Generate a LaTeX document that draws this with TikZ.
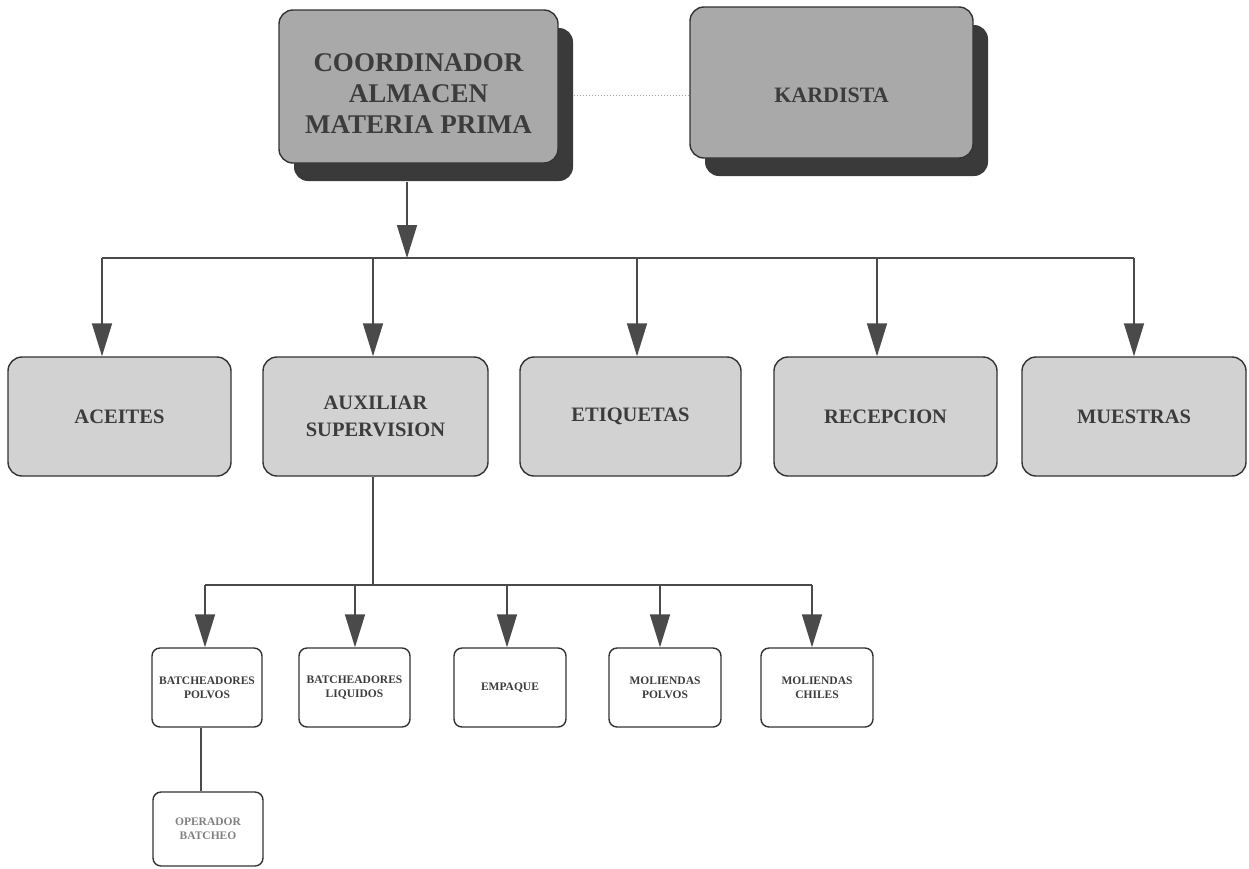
\documentclass[tikz,border=0pt]{standalone}
\usepackage{fontspec}
\setmainfont{Liberation Serif}
\usetikzlibrary{shadows,arrows.meta}
\definecolor{topfill}{HTML}{A9A9A9}
\definecolor{midfill}{HTML}{D2D2D2}
\definecolor{shadowc}{HTML}{3A3A3A}
\definecolor{edgec}{HTML}{333333}
\definecolor{linec}{HTML}{4A4A4A}
\definecolor{txtc}{HTML}{3C3C3C}
\newcommand\shtext[2]{\raisebox{#1}[0pt][0pt]{\begin{tabular}[b]{@{}c@{}}#2\end{tabular}}}
\tikzset{
  topbox/.style={draw=edgec, line width=1.4pt, fill=topfill, rounded corners=14pt,
    drop shadow={shadow xshift=15pt, shadow yshift=-18pt, opacity=1, fill=shadowc},
    align=center, text=txtc, font=\bfseries},
  midbox/.style={draw=edgec, line width=1.4pt, fill=midfill, rounded corners=14pt,
    minimum width=223pt, minimum height=119pt, align=center, text=txtc,
    font=\fontsize{20.5}{27}\selectfont\bfseries},
  smallbox/.style={draw=edgec, line width=1.4pt, fill=white, rounded corners=8pt,
    minimum width=111pt, minimum height=79pt, align=center, text=txtc,
    font=\fontsize{11.5}{14}\selectfont\bfseries},
  conn/.style={draw=linec, line width=1.6pt},
  arr/.style={conn, -{Triangle[length=33pt,width=20pt]}},
  linkdot/.style={draw=gray!70, line width=1pt, dotted},
}
\begin{document}
\begin{tikzpicture}[x=1pt,y=-1pt]
\useasboundingbox (0,0) rectangle (1249,868);
% top row
\node[topbox, minimum width=279pt, minimum height=153pt,
  font=\fontsize{27}{31}\selectfont\bfseries] (coord) at (418.5,86.5)
  {\shtext{-46.5pt}{COORDINADOR\\ALMACEN\\MATERIA PRIMA}};
\node[topbox, minimum width=283pt, minimum height=151pt,
  font=\fontsize{22}{26}\selectfont\bfseries] (kard) at (831.5,82.5)
  {\shtext{-19.5pt}{KARDISTA}};
\draw[linkdot] ([xshift=15pt,yshift=-12.5pt]coord.east |- kard.west) -- ([yshift=-12.5pt]kard.west);
% bus 1
\coordinate (bus) at (407,258);
\draw[arr] ([xshift=-11.5pt,yshift=-18pt]coord.south) -- (bus);
% middle row
\node[midbox] (ace) at (119.5,416.5) {ACEITES};
\node[midbox, minimum width=225pt] (aux) at (375.5,416.5) {AUXILIAR\\SUPERVISION};
\node[midbox, minimum width=221pt] (etiq) at (630.5,416.5) {ETIQUETAS};
\node[midbox] (recep) at (885.5,416.5) {RECEPCION};
\node[midbox, minimum width=224pt] (muest) at (1134,416.5) {MUESTRAS};
\draw[conn] ([xshift=-17.5pt]ace.north |- bus) -- (muest.north |- bus);
\draw[arr] ([xshift=-17.5pt]ace.north |- bus) -- ([xshift=-17.5pt]ace.north);
\draw[arr] ([xshift=-2.5pt]aux.north |- bus) -- ([xshift=-2.5pt]aux.north);
\draw[arr] ([xshift=6.5pt]etiq.north |- bus) -- ([xshift=6.5pt]etiq.north);
\draw[arr] ([xshift=-8.5pt]recep.north |- bus) -- ([xshift=-8.5pt]recep.north);
\draw[arr] (muest.north |- bus) -- (muest.north);
% bottom row
\node[smallbox, minimum width=110pt] (bp) at (207,687.5) {BATCHEADORES\\POLVOS};
\node[smallbox] (bl) at (354.5,687.5) {BATCHEADORES\\LIQUIDOS};
\node[smallbox, minimum width=112pt] (emp) at (510,687.5) {EMPAQUE};
\node[smallbox, minimum width=112pt] (molp) at (665,687.5) {MOLIENDAS\\POLVOS};
\node[smallbox, minimum width=112pt] (molc) at (817,687.5) {MOLIENDAS\\CHILES};
\node[smallbox, minimum width=110pt, minimum height=74pt, text=gray] (oper) at (208,829) {OPERADOR\\BATCHEO};
\coordinate (bus2) at (373,585);
\draw[conn] ([xshift=-2.5pt]aux.south) -- (bus2);
\draw[conn] ([xshift=-2pt]bp.north |- bus2) -- ([xshift=-5pt]molc.north |- bus2);
\draw[arr] ([xshift=-2pt]bp.north |- bus2) -- ([xshift=-2pt]bp.north);
\draw[arr] ([xshift=0.5pt]bl.north |- bus2) -- ([xshift=0.5pt]bl.north);
\draw[arr] ([xshift=-3pt]emp.north |- bus2) -- ([xshift=-3pt]emp.north);
\draw[arr] ([xshift=-5pt]molp.north |- bus2) -- ([xshift=-5pt]molp.north);
\draw[arr] ([xshift=-5pt]molc.north |- bus2) -- ([xshift=-5pt]molc.north);
\draw[conn] ([xshift=-6pt]bp.south) -- ([xshift=-6pt]bp.south |- oper.north);
\end{tikzpicture}
\end{document}
